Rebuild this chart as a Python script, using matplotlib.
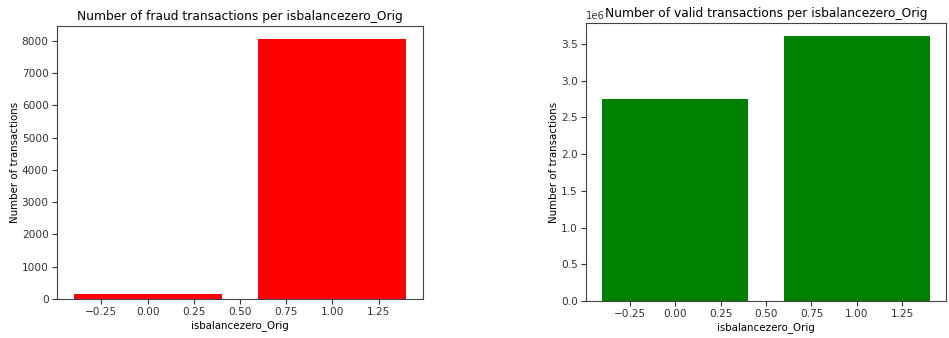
import matplotlib
matplotlib.use("Agg")
import matplotlib.pyplot as plt

categories = [0, 1]
fraud_counts = [155, 8058]
valid_counts = [2750000, 3605000]
xlabel = "isbalancezero_Orig"
ylabel = "Number of transactions"
fraud_title = "Number of fraud transactions per isbalancezero_Orig"
valid_title = "Number of valid transactions per isbalancezero_Orig"

W, H = 949, 338
fig = plt.figure(figsize=(W / 100, H / 100), dpi=100)

def px_axes(l, t, r, b):
    return fig.add_axes([l / W, 1 - b / H, (r - l) / W, (b - t) / H])

ax1 = px_axes(57, 26, 423, 299)
ax2 = px_axes(586, 23, 946, 301)

tick_fs = 7.6
label_fs = 7.4
title_fs = 8.8

for ax, vals, color, title in [
    (ax1, fraud_counts, "red", fraud_title),
    (ax2, valid_counts, "green", valid_title),
]:
    ax.bar(categories, vals, color=color)
    ax.set_xlabel(xlabel, fontsize=label_fs, labelpad=2)
    ax.set_ylabel(ylabel, fontsize=label_fs, labelpad=1.5)
    ax.set_title(title, fontsize=title_fs, y=1.0, pad=4)
    ax.tick_params(labelsize=tick_fs, length=3.5, pad=2.5, colors="#333333", labelcolor="#333333")
    ax.yaxis.get_offset_text().set_fontsize(tick_fs * 0.95)
    for s in ax.spines.values():
        s.set_color("#444444")

fig.savefig("out.png", dpi=100)
